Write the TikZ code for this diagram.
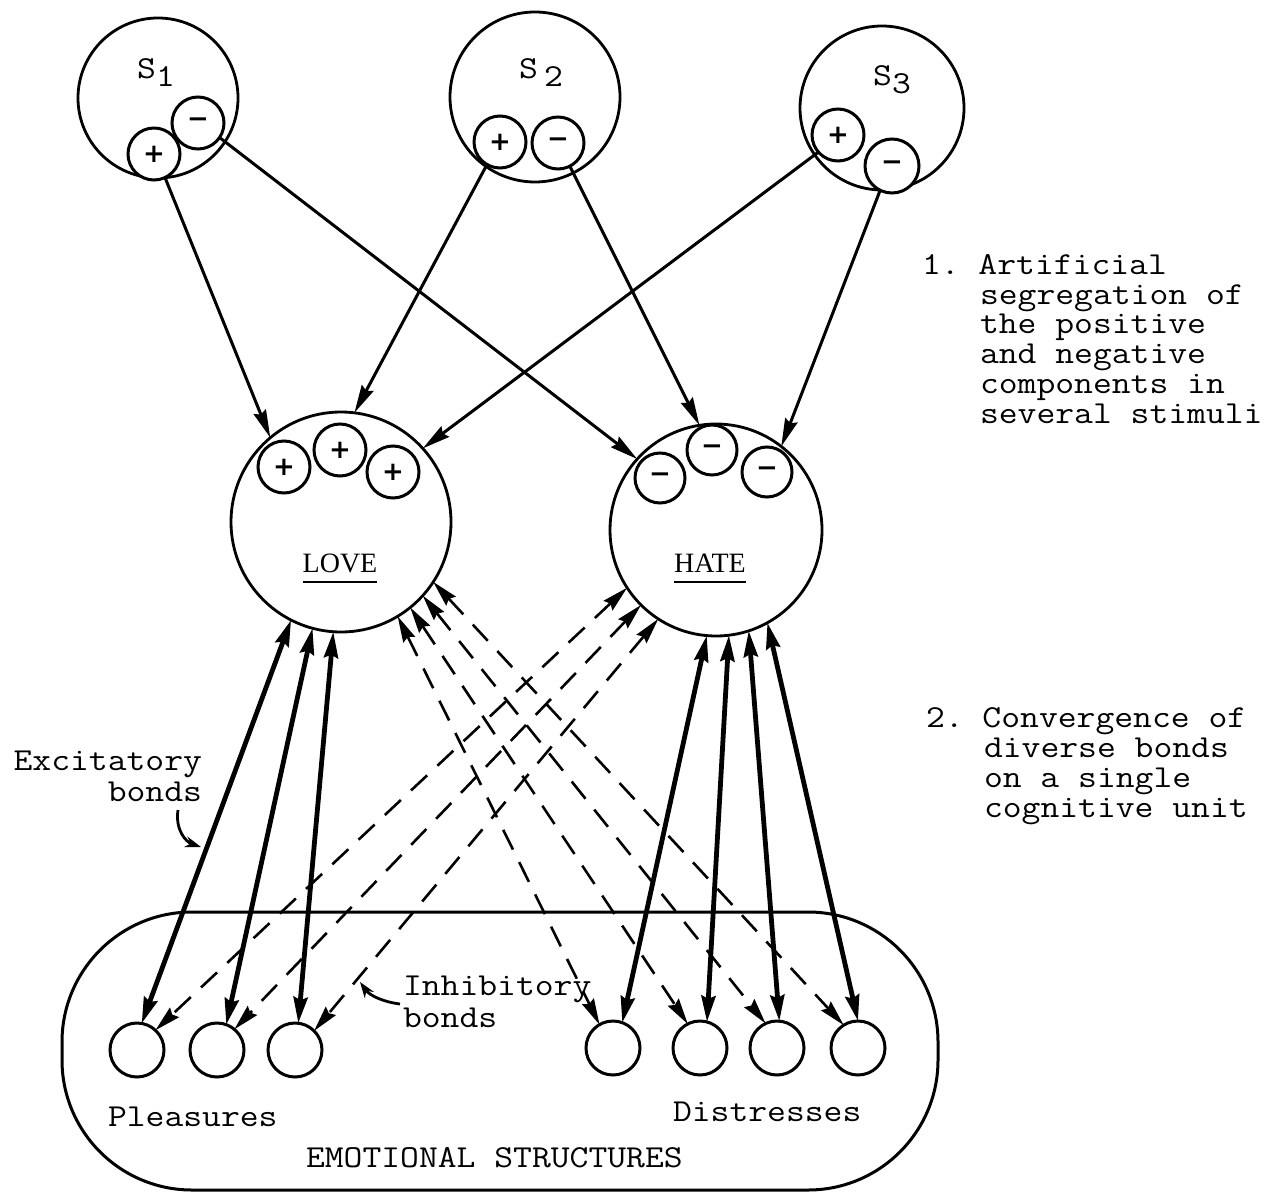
\documentclass[tikz,border=0pt]{standalone}
\usepackage{fontspec}
\setmainfont{Liberation Serif}
\setmonofont{Latin Modern Mono}[FakeStretch=1.143]
\newfontfamily\signfont{DejaVu Sans}
\usetikzlibrary{arrows.meta}
\begin{document}
\begin{tikzpicture}[x=0.5pt,y=-0.5pt,
  every node/.style={inner sep=0pt,outer sep=0pt},
  bigc/.style={circle,draw,line width=1.4pt,fill=white},
  smallc/.style={circle,draw,line width=1.5pt,fill=white,minimum size=26pt,
    font=\signfont\bfseries\fontsize{13}{13}\selectfont},
  leaf/.style={circle,draw,line width=1.5pt,minimum size=27pt},
  tt/.style={font=\ttfamily\fontsize{16}{16}\selectfont},
  word/.style={font=\fontsize{14}{14}\selectfont},
  feed/.style={line width=1.5pt,-{Stealth[length=14pt,width=6.5pt,inset=1.5pt]}},
  excit/.style={line width=2.4pt,{Stealth[length=13pt,width=7pt,inset=1.5pt]}-{Stealth[length=13pt,width=7pt,inset=1.5pt]}},
  inhib/.style={line width=1.3pt,dash pattern=on 11pt off 7pt,{Stealth[length=13pt,width=6.5pt,inset=1.5pt]}-{Stealth[length=13pt,width=6.5pt,inset=1.5pt]}},
  pointer/.style={line width=1.4pt,-{Stealth[length=8pt,width=5.5pt]}},
]
\useasboundingbox (0,0) rectangle (1288,1192);

% stimulus circles
\node[bigc,minimum size=80pt] (s1) at (158,98) {};
\node[bigc,minimum size=85pt] (s2) at (535,97) {};
\node[bigc,minimum size=82pt] (s3) at (882,108) {};
\node[tt] (s1lbl) at (156,73) {S\raisebox{-4pt}{1}};
\node[tt] (s2lbl) at (541,73) {S\hspace{3pt}\raisebox{-4pt}{2}};
\node[tt] (s3lbl) at (892,80) {S\raisebox{-4pt}{3}};
\node[smallc] (s1p) at (154,154) {+};
\node[smallc] (s1m) at (198,123) {−};
\node[smallc] (s2p) at (500,142) {+};
\node[smallc] (s2m) at (558,143) {−};
\node[smallc] (s3p) at (838,135) {+};
\node[smallc,minimum size=27pt] (s3m) at (892,166) {−};

% LOVE and HATE
\node[bigc,minimum size=110pt] (love) at (341,522) {};
\node[bigc,minimum size=106pt] (hate) at (716,530) {};
\node[smallc] (lp1) at (284,467) {+};
\node[smallc] (lp2) at (340,450) {+};
\node[smallc] (lp3) at (393,472) {+};
\node[smallc,minimum size=25pt] (hm1) at (660,478) {−};
\node[smallc,minimum size=25pt] (hm2) at (712,450) {−};
\node[smallc,minimum size=25pt] (hm3) at (767,472) {−};
\node[word,anchor=base] (lovelbl) at (340,572) {LOVE};
\node[word,anchor=base] (hatelbl) at (710,572) {HATE};
\draw[line width=1pt] ([yshift=-5pt]lovelbl.base west) -- ([yshift=-5pt]lovelbl.base east);
\draw[line width=1pt] ([yshift=-5pt]hatelbl.base west) -- ([yshift=-5pt]hatelbl.base east);

% feeds from stimuli
\draw[feed] (s1p.295) -- (love.130);
\draw[feed] (s1m.326) -- (hate.138);
\draw[feed] (s2p.240) -- (love.83);
\draw[feed] (s2m.297) -- (hate.99);
\draw[feed] (s3p.221) -- (love.42);
\draw[feed] (s3m.244) -- (hate.52);

% emotional structures
\node[draw,line width=1.5pt,rounded corners=65pt,minimum width=438pt,minimum height=139pt] (emo) at (500,1051) {};
\node[leaf] (p1) at (137,1050) {};
\node[leaf] (p2) at (217,1050) {};
\node[leaf] (p3) at (295,1050) {};
\node[leaf] (d1) at (613,1048) {};
\node[leaf] (d2) at (700,1048) {};
\node[leaf] (d3) at (777,1048) {};
\node[leaf] (d4) at (858,1048) {};

% excitatory bonds
\draw[excit] (love.243) -- (p1.80);
\draw[excit] (love.255) -- (p2.70);
\draw[excit] (love.266) -- (p3.83);
\draw[excit] (hate.265) -- (d1.70);
\draw[excit] (hate.277) -- (d2.75);
\draw[excit] (hate.288) -- (d3.85);
\draw[excit] (hate.299) -- (d4.90);

% inhibitory bonds
\draw[inhib] (love.301) -- (d1.120);
\draw[inhib] (love.309) -- (d2.117);
\draw[inhib] (love.318) -- (d3.115);
\draw[inhib] (love.327) -- (d4.122);
\draw[inhib] (hate.213) -- (p1.47);
\draw[inhib] (hate.225) -- (p2.50);
\draw[inhib] (hate.237) -- (p3.45);

% labels
\node[tt,anchor=base east] (ex1) at (202,770) {Excitatory};
\node[tt,anchor=base east] (ex2) at (202,801) {bonds};
\coordinate (exA) at (178,810);
\coordinate (exB) at (201,847);
\draw[pointer] (exA) .. controls (175,830) and (186,842) .. (exB);

\node[tt,anchor=base west] (in1) at (403,995) {Inhibitory};
\node[tt,anchor=base west] (in2) at (403,1027) {bonds};
\coordinate (inA) at (400,1004);
\coordinate (inB) at (360,982);
\draw[pointer] (inA) .. controls (384,1002) and (370,996) .. (inB);

\node[tt,anchor=base west] (plea) at (108,1126) {Pleasures};
\node[tt,anchor=base west] (dist) at (673,1121) {Distresses};
\node[tt,anchor=base west] (emolbl) at (306,1167) {EMOTIONAL STRUCTURES};

% annotations
\node[tt,anchor=base west] (a1) at (922,275) {1. Artificial};
\node[tt,anchor=base west] (a2) at (980,304.5) {segregation of};
\node[tt,anchor=base west] (a3) at (980,334) {the positive};
\node[tt,anchor=base west] (a4) at (980,363.5) {and negative};
\node[tt,anchor=base west] (a5) at (980,393.5) {components in};
\node[tt,anchor=base west] (a6) at (980,423) {several stimuli};

\node[tt,anchor=base west] (b1) at (926,727) {2. Convergence of};
\node[tt,anchor=base west] (b2) at (984,757) {diverse bonds};
\node[tt,anchor=base west] (b3) at (984,787) {on a single};
\node[tt,anchor=base west] (b4) at (984,817) {cognitive unit};
\end{tikzpicture}
\end{document}
